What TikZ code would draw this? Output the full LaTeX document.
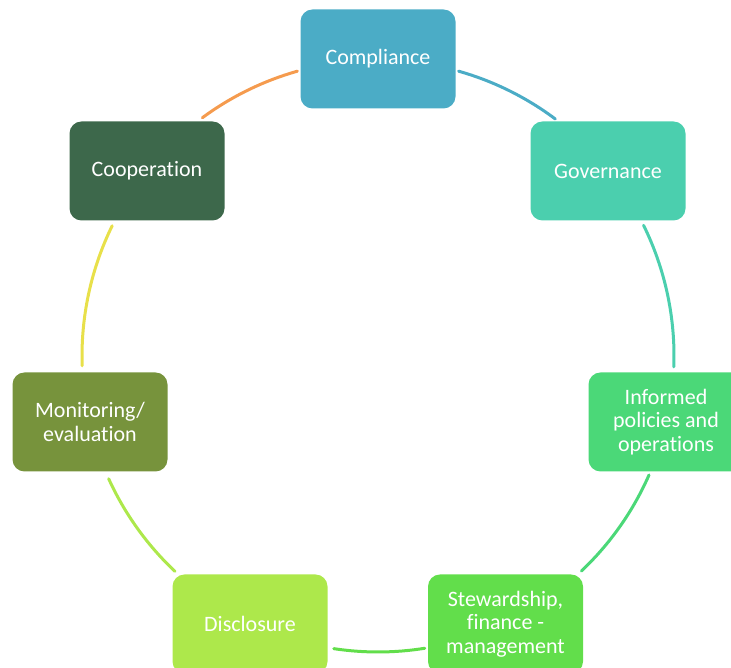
\documentclass[tikz,border=0pt]{standalone}
\usepackage{fontspec}
\setmainfont{Carlito}[Ligatures=NoCommon]
\definecolor{cCompliance}{HTML}{4BACC6}
\definecolor{cGovernance}{HTML}{4BCFAE}
\definecolor{cInformed}{HTML}{4BD878}
\definecolor{cSteward}{HTML}{62DE4B}
\definecolor{cDisclosure}{HTML}{ADE84B}
\definecolor{cMonitor}{HTML}{77933C}
\definecolor{cCoop}{HTML}{3D684B}
\definecolor{cYellow}{HTML}{E8E04A}
\definecolor{cOrange}{HTML}{F59B4E}
\tikzset{
  box/.style={rectangle, rounded corners=12pt, minimum width=155pt, minimum height=99pt,
    inner sep=0pt, text=white, align=center,
    font=\fontsize{22}{23.5}\selectfont},
  ring/.style={line width=3pt, line cap=round}
}
\begin{document}
\begin{tikzpicture}[x=1pt,y=1pt]
  \useasboundingbox (0,0) rectangle (731,668);
  \clip (0,0) rectangle (731,668);
  \coordinate (cen) at (378,312);
  % the seven stages
  \node[box, fill=cCompliance] (comp) at (378,609) {Compliance};
  \node[box, fill=cGovernance] (gov)  at (608,497) {Governance};
  \node[box, fill=cInformed]   (inf)  at (666,246) {Informed\\policies and\\operations};
  \node[box, fill=cSteward]    (stew) at (505.5,44) {Stewardship,\\finance -\\management};
  \node[box, fill=cDisclosure] (disc) at (250,44) {Disclosure};
  \node[box, fill=cMonitor]    (mon)  at (90,246) {Monitoring/\\evaluation};
  \node[box, fill=cCoop]       (coop) at (147,497) {Cooperation};
  % arcs of the cycle, centred on (cen)
  \draw[ring, cCompliance] ([shift={(74.2:296)}]cen) arc[start angle=74.2, end angle=53.2, radius=296];
  \draw[ring, cGovernance] ([shift={(26.2:296)}]cen) arc[start angle=26.2, end angle=-2.1, radius=296];
  \draw[ring, cInformed]   ([shift={(-23.7:296)}]cen) arc[start angle=-23.7, end angle=-46.6, radius=296];
  \draw[ring, cSteward]    ([shift={(-80.9:296)}]cen) arc[start angle=-80.9, end angle=-98.6, radius=296];
  \draw[ring, cDisclosure] ([shift={(-133.3:296)}]cen) arc[start angle=-133.3, end angle=-155.5, radius=296];
  \draw[ring, cYellow]     ([shift={(181.9:296)}]cen) arc[start angle=181.9, end angle=153.9, radius=296];
  \draw[ring, cOrange]     ([shift={(126.4:296)}]cen) arc[start angle=126.4, end angle=105.8, radius=296];
\end{tikzpicture}
\end{document}
